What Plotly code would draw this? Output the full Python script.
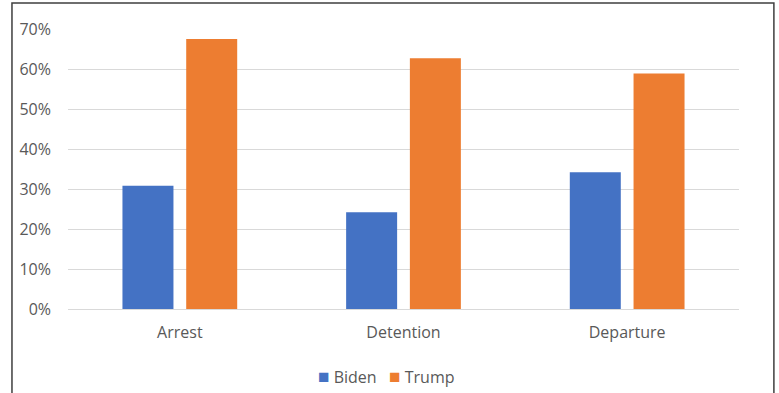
import plotly.graph_objects as go

# Share of cases by stage, per administration
categories = ["Arrest", "Detention", "Departure"]
series_names = ["Biden", "Trump"]
biden = [0.308, 0.242, 0.342]
trump = [0.675, 0.627, 0.589]
y_ticks = [0, 0.1, 0.2, 0.3, 0.4, 0.5, 0.6, 0.7]

TEXT = "#595959"
FONT = "Open Sans, Noto Sans, sans-serif"
COLORS = ["#4472C4", "#ED7D31"]

fig = go.Figure()
for name, vals, color in zip(series_names, [biden, trump], COLORS):
    fig.add_trace(go.Bar(name=name, x=categories, y=vals,
                         marker=dict(color=color, line=dict(width=0))))

# Compact legend: coloured square followed closely by the series name
legend_html = "&nbsp;&nbsp;&nbsp;".join(
    f"<span style='color:{c};font-size:19px'>■</span>&nbsp;{n}"
    for n, c in zip(series_names, COLORS)
)

fig.update_layout(
    width=779, height=393,
    margin=dict(l=68, r=40, t=29, b=84, autoexpand=False),
    paper_bgcolor="white", plot_bgcolor="white",
    barmode="group", bargap=0.43, bargroupgap=0.2,
    font=dict(family=FONT, size=16, color=TEXT),
    showlegend=False,
    xaxis=dict(showgrid=False, showline=False, ticks="", automargin=False,
               ticklabelstandoff=12, tickfont=dict(size=16, color=TEXT)),
    yaxis=dict(range=[0, 0.7], tickvals=y_ticks, tickformat=".0%", automargin=False,
               showgrid=True, gridcolor="#D9D9D9", gridwidth=1.3,
               zeroline=True, zerolinecolor="#D9D9D9", zerolinewidth=1.3,
               showline=False, ticks="", ticklabelstandoff=16,
               tickfont=dict(size=16, color=TEXT)),
    annotations=[dict(text=legend_html, xref="paper", yref="paper",
                      x=(386 - 68) / 671, y=-0.24, xanchor="center", yanchor="middle",
                      showarrow=False, font=dict(size=16, color=TEXT))],
    shapes=[dict(type="rect", xref="paper", yref="paper",
                 x0=-0.0835, x1=1.052, y0=-0.6, y1=1.093,
                 line=dict(color="#3F3F3F", width=1.5), fillcolor="rgba(0,0,0,0)",
                 layer="below")],
)

fig.write_html("out.html")
